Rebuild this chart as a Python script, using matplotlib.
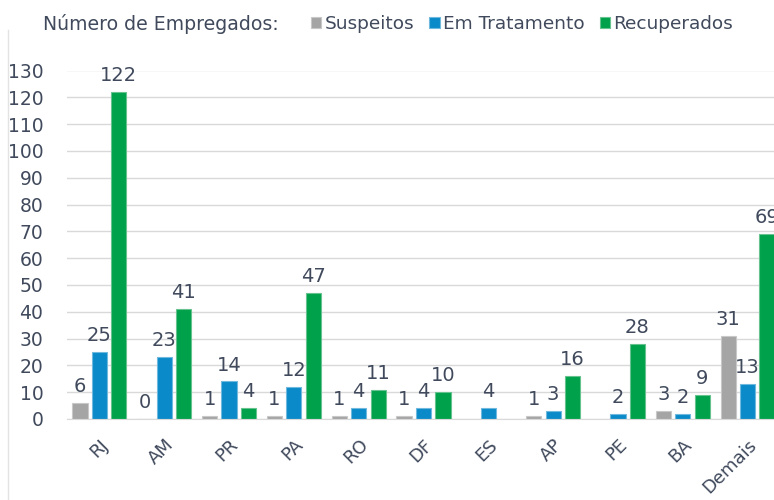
import numpy as np
import matplotlib.pyplot as plt
from matplotlib.lines import Line2D

# dados
estados = ['RJ', 'AM', 'PR', 'PA', 'RO', 'DF', 'ES', 'AP', 'PE', 'BA', 'Demais']
suspeitos = [6, 0, 1, 1, 1, 1, None, 1, None, 3, 31]
em_tratamento = [25, 23, 14, 12, 4, 4, 4, 3, 2, 2, 13]
recuperados = [122, 41, 4, 47, 11, 10, None, 16, 28, 9, 69]

series = [('Suspeitos', suspeitos, '#A5A5A5', '#C8C8C8'),
          ('Em Tratamento', em_tratamento, '#0A8AC8', '#6FB8DE'),
          ('Recuperados', recuperados, '#00A14B', '#66C28E')]

txt = '#404A5C'
plt.rcParams['font.family'] = 'DejaVu Sans'

fig = plt.figure(figsize=(7.74, 5), dpi=100)
ax = fig.add_axes([67 / 774, 81 / 500, 713 / 774, 348.5 / 500])

x = np.arange(len(estados))
w = 0.235
off = 0.3
handles = []
for i, (nome, vals, cor, borda) in enumerate(series):
    pos = x + (i - 1) * off
    h = [np.nan if v is None else v for v in vals]
    bars = ax.bar(pos, h, w, color=cor, edgecolor=borda, linewidth=0.8,
                  label=nome, zorder=3)
    handles.append(bars)
    for p, v in zip(pos, vals):
        if v is None:
            continue
        ax.annotate(str(v), (p, v), xytext=(0, 5), textcoords='offset points',
                    ha='center', va='bottom', fontsize=14, color=txt)

ax.set_xlim(-0.5, len(estados) - 0.5)
ax.set_ylim(0, 130)
ax.set_yticks(np.arange(0, 131, 10))
ax.set_xticks(x)
ax.set_xticklabels(estados, rotation=45, ha='right', rotation_mode='anchor')
ax.tick_params(axis='y', length=0, pad=17, labelsize=13.5, labelcolor=txt)
ax.tick_params(axis='x', length=0, pad=12, labelsize=13, labelcolor=txt)
ax.grid(axis='y', color='#D9D9D9', linewidth=1, zorder=0)
for s in ['top', 'right', 'left']:
    ax.spines[s].set_visible(False)
ax.spines['bottom'].set_color('#D9D9D9')
ax.spines['bottom'].set_zorder(4)

fig.text(43 / 774, 0.952, 'Número de Empregados:', fontsize=13.6, color=txt,
         ha='left', va='center')
fig.legend(handles=handles, loc='center left', bbox_to_anchor=(302 / 774, 0.952),
           ncol=3, frameon=False, fontsize=13.3, labelcolor=txt,
           handlelength=0.55, handleheight=0.55, handletextpad=0.2,
           columnspacing=0.8, borderpad=0)

# borda lateral do gráfico
fig.add_artist(Line2D([8 / 774, 8 / 774], [0, 0.94], color='#E3E3E3', lw=1))

fig.savefig('out.png', dpi=100)
